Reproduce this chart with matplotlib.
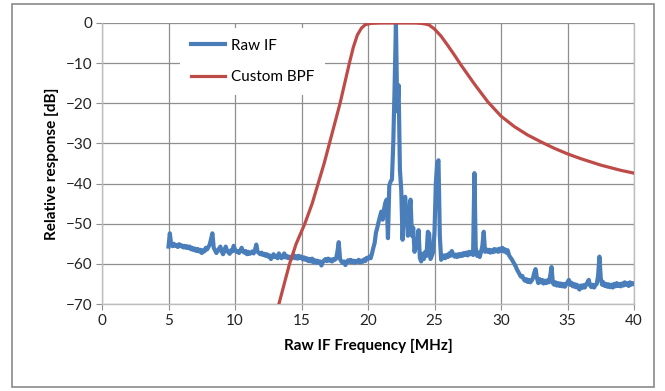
import numpy as np
import matplotlib
matplotlib.use("Agg")
import matplotlib.pyplot as plt
from matplotlib.patches import Rectangle

# Raw IF spectrum, 5.0 .. 40.0 MHz in 0.1 MHz steps (one row per MHz)
raw_db = [
    -55.7, -52.4, -55.2, -55.6, -55.0, -55.5, -55.3, -55.8, -55.1, -55.6,   # 5
    -55.4, -55.9, -55.5, -56.0, -55.6, -56.1, -55.7, -56.4, -56.0, -56.6,   # 6
    -56.2, -56.8, -56.3, -56.9, -56.5, -57.3, -56.6, -56.9, -56.0, -56.4,   # 7
    -55.8, -55.2, -53.8, -52.4, -56.0, -56.6, -57.3, -56.8, -56.2, -55.7,   # 8
    -56.9, -57.6, -56.8, -55.7, -56.7, -57.1, -57.5, -56.6, -56.9, -55.5,   # 9
    -56.4, -57.0, -56.8, -57.3, -56.6, -56.0, -56.9, -57.2, -56.8, -57.6,   # 10
    -57.0, -57.5, -57.3, -56.9, -57.4, -56.6, -55.2, -57.0, -57.3, -57.6,   # 11
    -57.2, -57.8, -57.5, -58.0, -57.6, -58.2, -57.9, -58.8, -58.2, -57.6,   # 12
    -58.3, -58.0, -58.6, -57.4, -58.2, -58.6, -58.1, -57.4, -58.4, -58.0,   # 13
    -58.6, -58.2, -58.8, -58.3, -57.8, -58.6, -58.1, -58.7, -58.0, -58.5,   # 14
    -58.2, -58.9, -58.4, -59.0, -58.6, -59.3, -58.8, -59.4, -58.7, -59.6,   # 15
    -59.1, -59.7, -59.2, -59.8, -59.4, -60.4, -59.6, -59.1, -58.8, -59.3,   # 16
    -58.7, -59.2, -58.9, -59.4, -58.8, -59.0, -58.7, -57.0, -54.6, -58.8,   # 17
    -59.4, -59.8, -59.4, -60.3, -59.6, -59.1, -59.5, -59.0, -59.6, -59.2,   # 18
    -59.7, -59.3, -59.5, -59.0, -59.6, -59.2, -59.5, -58.9, -59.3, -58.5,   # 19
    -58.8, -58.2, -58.6, -57.4, -56.0, -54.8, -52.2, -51.0, -49.5, -48.3,   # 20
    -47.0, -49.0, -46.5, -44.8, -44.0, -53.6, -40.5, -39.5, -39.0, -30.0,   # 21
    -16.0, 0.0, -22.0, -15.5, -36.6, -41.6, -54.0, -44.0, -43.3, -48.3,     # 22
    -53.0, -47.0, -44.0, -53.0, -51.0, -57.0, -54.5, -56.0, -51.6, -58.5,   # 23
    -59.4, -57.5, -58.8, -57.0, -58.0, -52.0, -52.5, -58.8, -58.0, -57.0,   # 24
    -52.0, -40.0, -35.0, -34.2, -53.0, -59.0, -58.4, -57.9, -58.6, -57.8,   # 25
    -58.3, -57.4, -58.0, -56.8, -57.6, -58.2, -57.7, -58.3, -57.6, -58.1,   # 26
    -57.5, -58.0, -57.3, -57.8, -57.2, -57.9, -57.0, -57.6, -57.1, -57.8,   # 27
    -37.4, -56.0, -58.0, -57.2, -58.3, -57.0, -55.5, -52.0, -57.0, -56.4,   # 28
    -57.0, -56.5, -57.2, -56.6, -57.1, -56.3, -56.9, -56.4, -57.0, -56.2,   # 29
    -56.8, -56.0, -56.9, -56.4, -57.2, -56.6, -57.8, -58.4, -58.8, -59.4,   # 30
    -60.0, -60.6, -61.4, -62.0, -62.6, -63.2, -63.0, -63.8, -64.2, -63.8,   # 31
    -64.5, -64.0, -64.6, -64.2, -63.6, -62.2, -61.3, -63.5, -64.8, -63.8,   # 32
    -64.6, -64.0, -64.9, -64.2, -64.8, -64.1, -64.6, -63.0, -60.8, -64.8,   # 33
    -65.2, -64.6, -65.4, -64.8, -65.5, -64.9, -65.6, -65.0, -65.7, -65.1,   # 34
    -64.6, -64.0, -65.2, -64.7, -65.6, -65.0, -65.8, -65.2, -66.0, -66.4,   # 35
    -65.4, -66.0, -65.3, -65.9, -65.2, -64.6, -64.0, -65.4, -65.8, -65.2,   # 36
    -65.9, -65.3, -65.0, -63.0, -58.2, -63.5, -65.2, -64.6, -65.5, -65.0,   # 37
    -65.7, -65.1, -65.8, -65.2, -65.9, -65.0, -65.6, -64.8, -65.5, -65.0,   # 38
    -65.6, -64.9, -65.4, -64.6, -65.2, -64.8, -65.5, -64.6, -65.2, -64.8,   # 39
    -65.0,                                                                  # 40
]
raw_freq = np.round(np.arange(5.0, 40.05, 0.1), 1)

# custom band-pass filter response
bpf_freq = [13.3, 14.1, 14.6, 15.25, 15.8, 16.25, 16.7, 17.1, 17.5, 17.9, 18.25,
            18.6, 18.9, 19.2, 19.5, 19.8, 20.2, 21.0, 22.0, 23.5, 24.0, 24.3,
            24.6, 25.0, 25.5, 26.0, 26.5, 27.0, 28.0, 29.0, 30.0, 31.0, 32.0,
            33.0, 34.0, 35.0, 36.0, 37.5, 39.0, 40.0]
bpf_db = [-70.0, -60.0, -55.0, -50.0, -45.0, -40.0, -35.0, -30.0, -25.0, -20.0, -15.0,
          -10.0, -6.0, -3.0, -1.3, -0.4, -0.1, 0.0, 0.0, 0.0, -0.1, -0.25,
          -0.5, -1.5, -3.3, -5.6, -8.0, -10.5, -15.2, -19.6, -23.2, -25.8, -27.9,
          -29.6, -31.2, -32.6, -33.8, -35.4, -36.7, -37.4]

xticks = [0, 5, 10, 15, 20, 25, 30, 35, 40]
yticks = [0, -10, -20, -30, -40, -50, -60, -70]

plt.rcParams['font.family'] = ['Lato', 'DejaVu Sans']

fig = plt.figure(figsize=(6.65, 3.91), dpi=100)
fig.patches.append(Rectangle((12 / 665, 4 / 391), 642 / 665, 383 / 391,
                             transform=fig.transFigure, fill=False,
                             edgecolor='#8a8a8a', linewidth=1.2))
ax = fig.add_axes([102 / 665, 87 / 391, 532 / 665, 281 / 391])

ax.plot(raw_freq, raw_db, color='#4a7ebb', lw=3.0, label='Raw IF', zorder=3,
        solid_joinstyle='round')
ax.plot(bpf_freq, bpf_db, color='#be4b48', lw=2.3, label='Custom BPF', zorder=4,
        solid_joinstyle='round')

ax.set_xlim(0, 40)
ax.set_ylim(-70, 0)
ax.set_xticks(xticks)
ax.set_yticks(yticks)
ax.grid(True, color='#8f8f8f', lw=0.9)
ax.set_axisbelow(True)
for s in ax.spines.values():
    s.set_color('#bdbdbd')
    s.set_linewidth(1.0)
ax.spines['top'].set_visible(False)
ax.tick_params(axis='both', direction='out', length=4, color='#8f8f8f',
               labelsize=11, labelcolor='#222222', pad=3)

ax.set_xlabel('Raw IF Frequency [MHz]', fontsize=11, fontweight='bold', labelpad=8)
ax.set_ylabel('Relative response [dB]', fontsize=11, fontweight='bold', labelpad=5)

leg = ax.legend(loc='upper left', bbox_to_anchor=(0.147, 0.982), borderaxespad=0,
                frameon=True, framealpha=1, facecolor='white', edgecolor='none',
                fancybox=False, fontsize=11, handlelength=2.2, handletextpad=0.4,
                labelspacing=1.15, borderpad=0.7)
leg.set_zorder(5)

fig.savefig('out.png', dpi=100)
